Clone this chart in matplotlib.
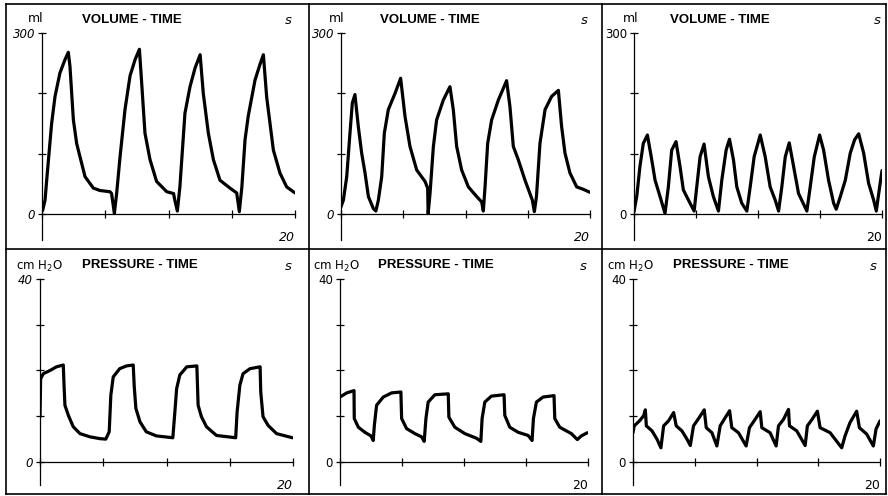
import matplotlib
matplotlib.use('Agg')
import matplotlib.pyplot as plt
from matplotlib.lines import Line2D

# ---- data (time in s) ----
vol1_t = [0.05, 0.24, 0.37, 0.76, 1.03, 1.42, 1.82, 2.08, 2.21, 2.48, 2.74, 2.87, 3.4, 4.06, 4.58, 5.38, 5.5, 5.72,
          5.9, 6.17, 6.56, 6.96, 7.36, 7.7, 7.88, 8.14, 8.54, 9.06, 9.86, 10.4, 10.5, 10.7,
          10.9, 11.3, 11.7, 12.1, 12.5, 12.75, 13.15, 13.55, 14.07, 14.86, 15.39, 15.6,
          15.8, 16.05, 16.3, 16.84, 17.23, 17.5, 17.76, 18.29, 18.81, 19.34, 20.0]
vol1_v = [6, 23, 56, 150, 195, 234, 256, 268, 245, 156, 117, 106, 62, 43, 39, 37, 34, 1,
          34, 95, 173, 229, 256, 273, 217, 134, 90, 54, 37, 34, 23, 5,
          45, 167, 211, 242, 264, 200, 134, 90, 56, 43, 35, 4,
          45, 123, 162, 222, 248, 264, 194, 106, 68, 45, 35]

vol2_t = [0.0, 0.19, 0.46, 0.72, 0.91, 1.12, 1.39, 1.66, 1.93, 2.2, 2.6, 2.8,
          3.0, 3.27, 3.48, 3.8, 4.34, 4.79, 5.14, 5.54, 6.08, 6.75, 6.96, 7.0,
          7.15, 7.42, 7.68, 8.22, 8.75, 9.02, 9.29, 9.69, 10.23, 10.9, 11.3, 11.43,
          11.57, 11.78, 12.1, 12.64, 13.3, 13.57, 13.84, 14.24, 14.78, 15.37, 15.53,
          15.7, 15.98, 16.39, 16.92, 17.46, 17.72, 17.99, 18.39, 18.93, 19.46, 20.0]
vol2_v = [12, 23, 62, 134, 184, 198, 145, 101, 68, 29, 9, 5,
          23, 62, 134, 173, 200, 225, 162, 112, 73, 54, 43, 1,
          34, 112, 156, 189, 211, 173, 112, 73, 45, 29, 20, 5,
          45, 117, 156, 189, 221, 178, 112, 90, 56, 23, 4,
          29, 117, 173, 195, 205, 145, 101, 68, 45, 41, 36]

vol3_t = [0.0, 0.22, 0.48, 0.75, 1.08, 1.43, 1.7, 2.1, 2.5,
          2.77, 3.04, 3.39, 3.71, 3.98, 4.52, 4.85,
          5.06, 5.33, 5.65, 6.0, 6.4, 6.81,
          7.08, 7.43, 7.7, 8.02, 8.29, 8.69, 9.1,
          9.37, 9.69, 10.18, 10.58, 10.98, 11.39, 11.66,
          11.92, 12.2, 12.52, 12.87, 13.27, 13.94,
          14.21, 14.54, 14.97, 15.29, 15.69, 16.1, 16.31,
          16.64, 17.04, 17.44, 17.79, 18.12, 18.52, 18.92, 19.33, 19.54,
          19.81, 20.0]
vol3_v = [4, 29, 79, 117, 131, 90, 56, 29, 1,
          45, 106, 120, 79, 40, 18, 5,
          45, 95, 116, 62, 29, 5,
          56, 106, 124, 90, 45, 18, 5,
          45, 95, 131, 95, 45, 23, 5,
          45, 95, 118, 79, 34, 5,
          45, 95, 131, 106, 56, 18, 8,
          29, 56, 101, 123, 133, 101, 51, 23, 5,
          45, 72]

pres1_t = [0.0, 0.05, 0.26, 0.79, 1.3, 1.84, 1.9, 1.97, 2.24, 2.63, 3.16, 3.95, 4.74, 5.2,
           5.47, 5.6, 5.79, 6.3, 6.84, 7.37, 7.45, 7.58, 7.9, 8.4, 9.2, 10.5,
           10.66, 10.8, 11.05, 11.6, 12.4, 12.5, 12.76, 13.16, 13.95, 15.47,
           15.58, 15.8, 16.05, 16.6, 17.4, 17.45, 17.63, 18.03, 18.7, 19.95]
pres1_p = [9.9, 18.2, 19.3, 20.0, 20.8, 21.2, 16.8, 12.4, 10.2, 7.7, 6.2, 5.5, 5.1, 5.0,
           6.6, 14.6, 18.6, 20.4, 21.0, 21.2, 16.5, 11.7, 8.8, 6.6, 5.7, 5.3,
           10.9, 16.0, 19.0, 20.8, 21.0, 12.4, 9.9, 7.7, 5.8, 5.3,
           10.9, 16.8, 19.3, 20.4, 20.8, 15.3, 9.9, 8.0, 6.2, 5.3]

pres2_t = [0.0, 0.54, 1.13, 1.15, 1.48, 2.0, 2.5, 2.68,
           2.77, 2.95, 3.49, 4.16, 4.91, 4.97, 5.37, 6.04, 6.58, 6.79,
           6.93, 7.11, 7.65, 8.73, 8.78, 9.26, 10.07, 11.0, 11.36,
           11.46, 11.68, 12.21, 13.23, 13.29, 13.69, 14.36, 15.17, 15.49,
           15.6, 15.84, 16.38, 17.26, 17.32, 17.72, 18.66, 19.14, 19.46, 19.95]
pres2_p = [14.2, 15.1, 15.6, 9.5, 7.6, 6.5, 5.7, 4.7,
           8.0, 12.4, 14.2, 15.1, 15.3, 9.5, 7.3, 6.2, 5.5, 4.5,
           9.5, 13.1, 14.7, 14.9, 9.8, 7.6, 6.2, 5.2, 4.5,
           9.5, 13.1, 14.4, 14.7, 10.2, 7.6, 6.5, 5.8, 4.7,
           9.5, 13.1, 14.2, 14.5, 9.5, 7.6, 6.2, 4.9, 5.7, 6.4]

pres3_t = [0.0, 0.1, 0.53, 0.86, 1.0, 1.08, 1.54, 1.94, 2.26,
           2.48, 2.88, 3.29, 3.5, 3.96, 4.37, 4.64,
           4.9, 5.31, 5.77, 5.93, 6.39, 6.79,
           7.06, 7.47, 7.82, 8.0, 8.54, 9.16,
           9.43, 9.81, 10.3, 10.43, 11.1, 11.59,
           11.78, 12.18, 12.59, 12.67, 13.26, 13.94,
           14.12, 14.47, 14.93, 15.15, 15.96, 16.9,
           17.17, 17.57, 18.11, 18.33, 18.92, 19.46, 19.68, 20.0]
pres3_p = [6.4, 7.9, 9.0, 10.1, 11.4, 7.9, 6.8, 5.0, 3.1,
           7.9, 9.0, 10.8, 7.9, 6.8, 5.0, 3.6,
           7.9, 9.5, 11.4, 7.5, 6.4, 3.5,
           7.9, 9.7, 11.2, 7.5, 6.4, 3.5,
           7.5, 9.0, 11.0, 7.5, 6.4, 3.5,
           7.9, 9.3, 11.5, 7.9, 6.8, 3.6,
           7.9, 9.2, 11.1, 7.5, 6.4, 3.1,
           5.7, 8.6, 11.1, 7.5, 6.1, 3.5, 7.2, 9.0]

vol_ticks = [0, 100, 200, 300]
pres_ticks = [0, 10, 20, 30, 40]
time_ticks = [0, 5, 10, 15, 20]

W, H = 888, 496
fig = plt.figure(figsize=(W / 100, H / 100), dpi=100)


def add_panel(x0, x1, ytop, ybot, t, y, ylim, yticks, italic):
    ax = fig.add_axes([x0 / W, 1 - ybot / H, (x1 - x0) / W, (ybot - ytop) / H])
    ax.plot(t, y, color='black', lw=2.3, solid_joinstyle='round', solid_capstyle='round')
    ax.set_xlim(0, 20)
    ax.set_ylim(*ylim)
    ax.patch.set_visible(False)
    for s in ['top', 'right']:
        ax.spines[s].set_visible(False)
    ax.spines['bottom'].set_position(('data', 0))
    ax.spines['left'].set_linewidth(0.9)
    ax.spines['bottom'].set_linewidth(0.9)
    style = 'italic' if italic else 'normal'
    ax.set_yticks(yticks, ['0'] + [''] * (len(yticks) - 2) + [str(yticks[-1])],
                  fontsize=8.5, fontstyle=style)
    ax.set_xticks(time_ticks, [''] * 4 + ['20'], fontsize=9, fontstyle=style)
    for lab in ax.get_xticklabels():
        lab.set_horizontalalignment('right')
    ax.tick_params(direction='inout', length=6, width=0.9, pad=2)
    ax.tick_params(axis='x', pad=9)
    return ax


# top row: volume
add_panel(42, 295, 33, 240, vol1_t, vol1_v, (-43, 300), vol_ticks, True)
add_panel(341, 590, 33, 240, vol2_t, vol2_v, (-43, 300), vol_ticks, True)
add_panel(634, 882, 33, 240, vol3_t, vol3_v, (-43, 300), vol_ticks, False)
# bottom row: pressure
add_panel(40, 293, 279, 485, pres1_t, pres1_p, (-5.03, 40), pres_ticks, True)
add_panel(340, 588, 279, 485, pres2_t, pres2_p, (-5.03, 40), pres_ticks, False)
add_panel(633, 880, 279, 485, pres3_t, pres3_p, (-5.03, 40), pres_ticks, False)


def ftext(x, y, s, **kw):
    fig.text(x / W, 1 - y / H, s, va='center', **kw)


title_kw = dict(fontsize=9.5, fontweight='bold', family='Liberation Sans')
for x_unit, x_title, x_s in [(36, 82, 288), (337, 380, 584), (631, 670, 877)]:
    ftext(x_unit, 19, 'ml', ha='center', fontsize=9)
    ftext(x_title, 20, 'VOLUME - TIME', ha='left', **title_kw)
    ftext(x_s, 21, 's', ha='center', fontsize=9.5, fontstyle='italic')
for x_unit, x_title, x_s in [(39, 82, 288), (336, 378, 583), (630, 673, 873)]:
    ftext(x_unit, 266, 'cm H$_2$O', ha='center', fontsize=8.5)
    ftext(x_title, 265, 'PRESSURE - TIME', ha='left', **title_kw)
    ftext(x_s, 266, 's', ha='center', fontsize=9.5, fontstyle='italic')

# panel frames
for xb in [6, 309, 602, 886]:
    fig.add_artist(Line2D([xb / W, xb / W], [1 - 494 / H, 1 - 4 / H], color='black', lw=1.2))
for yb in [4, 249, 494]:
    fig.add_artist(Line2D([6 / W, 886 / W], [1 - yb / H, 1 - yb / H], color='black', lw=1.2))

fig.savefig('out.png', dpi=100)
